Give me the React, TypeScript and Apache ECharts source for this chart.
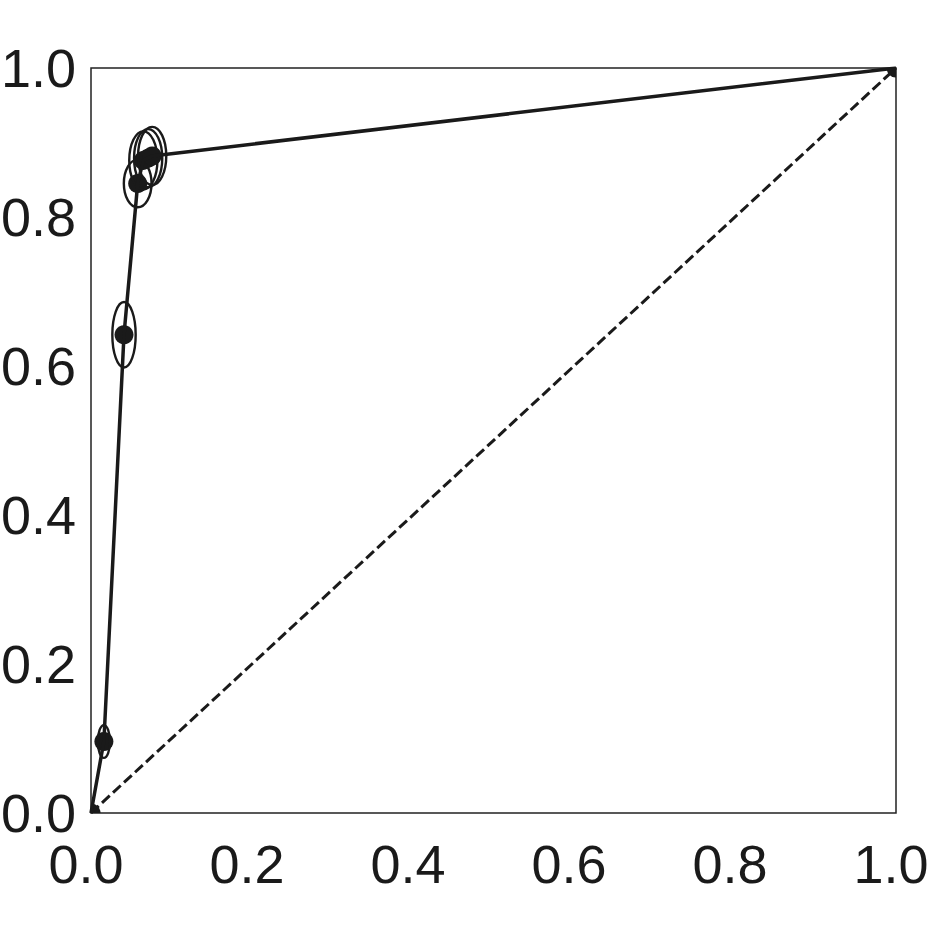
import React, { useEffect, useRef } from "react";
import * as echarts from "echarts";

// ROC-like points (false positive rate, true positive rate)
const fpr = [0, 0.016, 0.041, 0.058, 0.065, 0.071, 0.076, 1];
const tpr = [0, 0.096, 0.642, 0.845, 0.876, 0.879, 0.882, 1];
// half widths / heights of uncertainty ellipses (data units)
const errX = [0, 0.0075, 0.0145, 0.0172, 0.0175, 0.0175, 0.0175, 0];
const errY = [0, 0.022, 0.044, 0.032, 0.039, 0.039, 0.039, 0];
const diagonal = [[0, 0], [1, 1]];
const ticks = [0, 0.2, 0.4, 0.6, 0.8, 1.0];

const INK = "#1a1a1a";
const FONT = "'Liberation Sans', Arial, Helvetica, sans-serif";

export default function App() {
  const ref = useRef<HTMLDivElement>(null);
  useEffect(() => {
    if (!ref.current) return;
    const chart = echarts.init(ref.current, null, { renderer: "svg" });
    const pts = fpr.map((x, i) => [x, tpr[i], errX[i], errY[i]]);
    const axisCommon = {
      type: "value" as const,
      min: ticks[0],
      max: ticks[ticks.length - 1],
      interval: 0.2,
      splitLine: { show: false },
      axisTick: { show: false },
      axisLine: { show: false },
    };
    chart.setOption({
      animation: false,
      backgroundColor: "#ffffff",
      grid: {
        left: 91,
        top: 68,
        width: 805,
        height: 745,
        containLabel: false,
        outerBoundsMode: "none",
        show: true,
        borderColor: "#222222",
        borderWidth: 1.5,
        backgroundColor: "transparent",
      },
      xAxis: {
        ...axisCommon,
        axisLabel: {
          fontSize: 54,
          fontFamily: FONT,
          color: INK,
          margin: 24,
          padding: [0, 10, 0, 0],
          formatter: (v: number) => v.toFixed(1),
        },
      },
      yAxis: {
        ...axisCommon,
        axisLabel: {
          fontSize: 54,
          fontFamily: FONT,
          color: INK,
          margin: 15,
          formatter: (v: number) => v.toFixed(1),
        },
      },
      series: [
        {
          type: "line",
          data: diagonal,
          symbol: "none",
          lineStyle: { color: INK, width: 3, type: [10.5, 4.5] },
          silent: true,
        },
        {
          type: "line",
          data: fpr.map((x, i) => [x, tpr[i]]),
          symbol: "none",
          lineStyle: { color: INK, width: 3.5 },
          silent: true,
        },
        {
          type: "custom",
          clip: true,
          data: pts,
          renderItem: (params: any, api: any) => {
            const c = api.coord([api.value(0), api.value(1)]);
            const s = api.size([api.value(2), api.value(3)]);
            const children: any[] = [
              {
                type: "circle",
                shape: { cx: c[0], cy: c[1], r: 9.5 },
                style: { fill: INK, stroke: "none" },
              },
            ];
            if (api.value(2) > 0) {
              children.push({
                type: "ellipse",
                shape: { cx: c[0], cy: c[1], rx: s[0], ry: s[1] },
                style: { fill: "none", stroke: INK, lineWidth: 2.4 },
              });
            }
            return { type: "group", children };
          },
          silent: true,
        },
      ],
    });
    return () => chart.dispose();
  }, []);
  return (
    <div
      ref={ref}
      style={{ position: "fixed", left: 0, top: 0, width: 931, height: 931, background: "#fff" }}
    />
  );
}
